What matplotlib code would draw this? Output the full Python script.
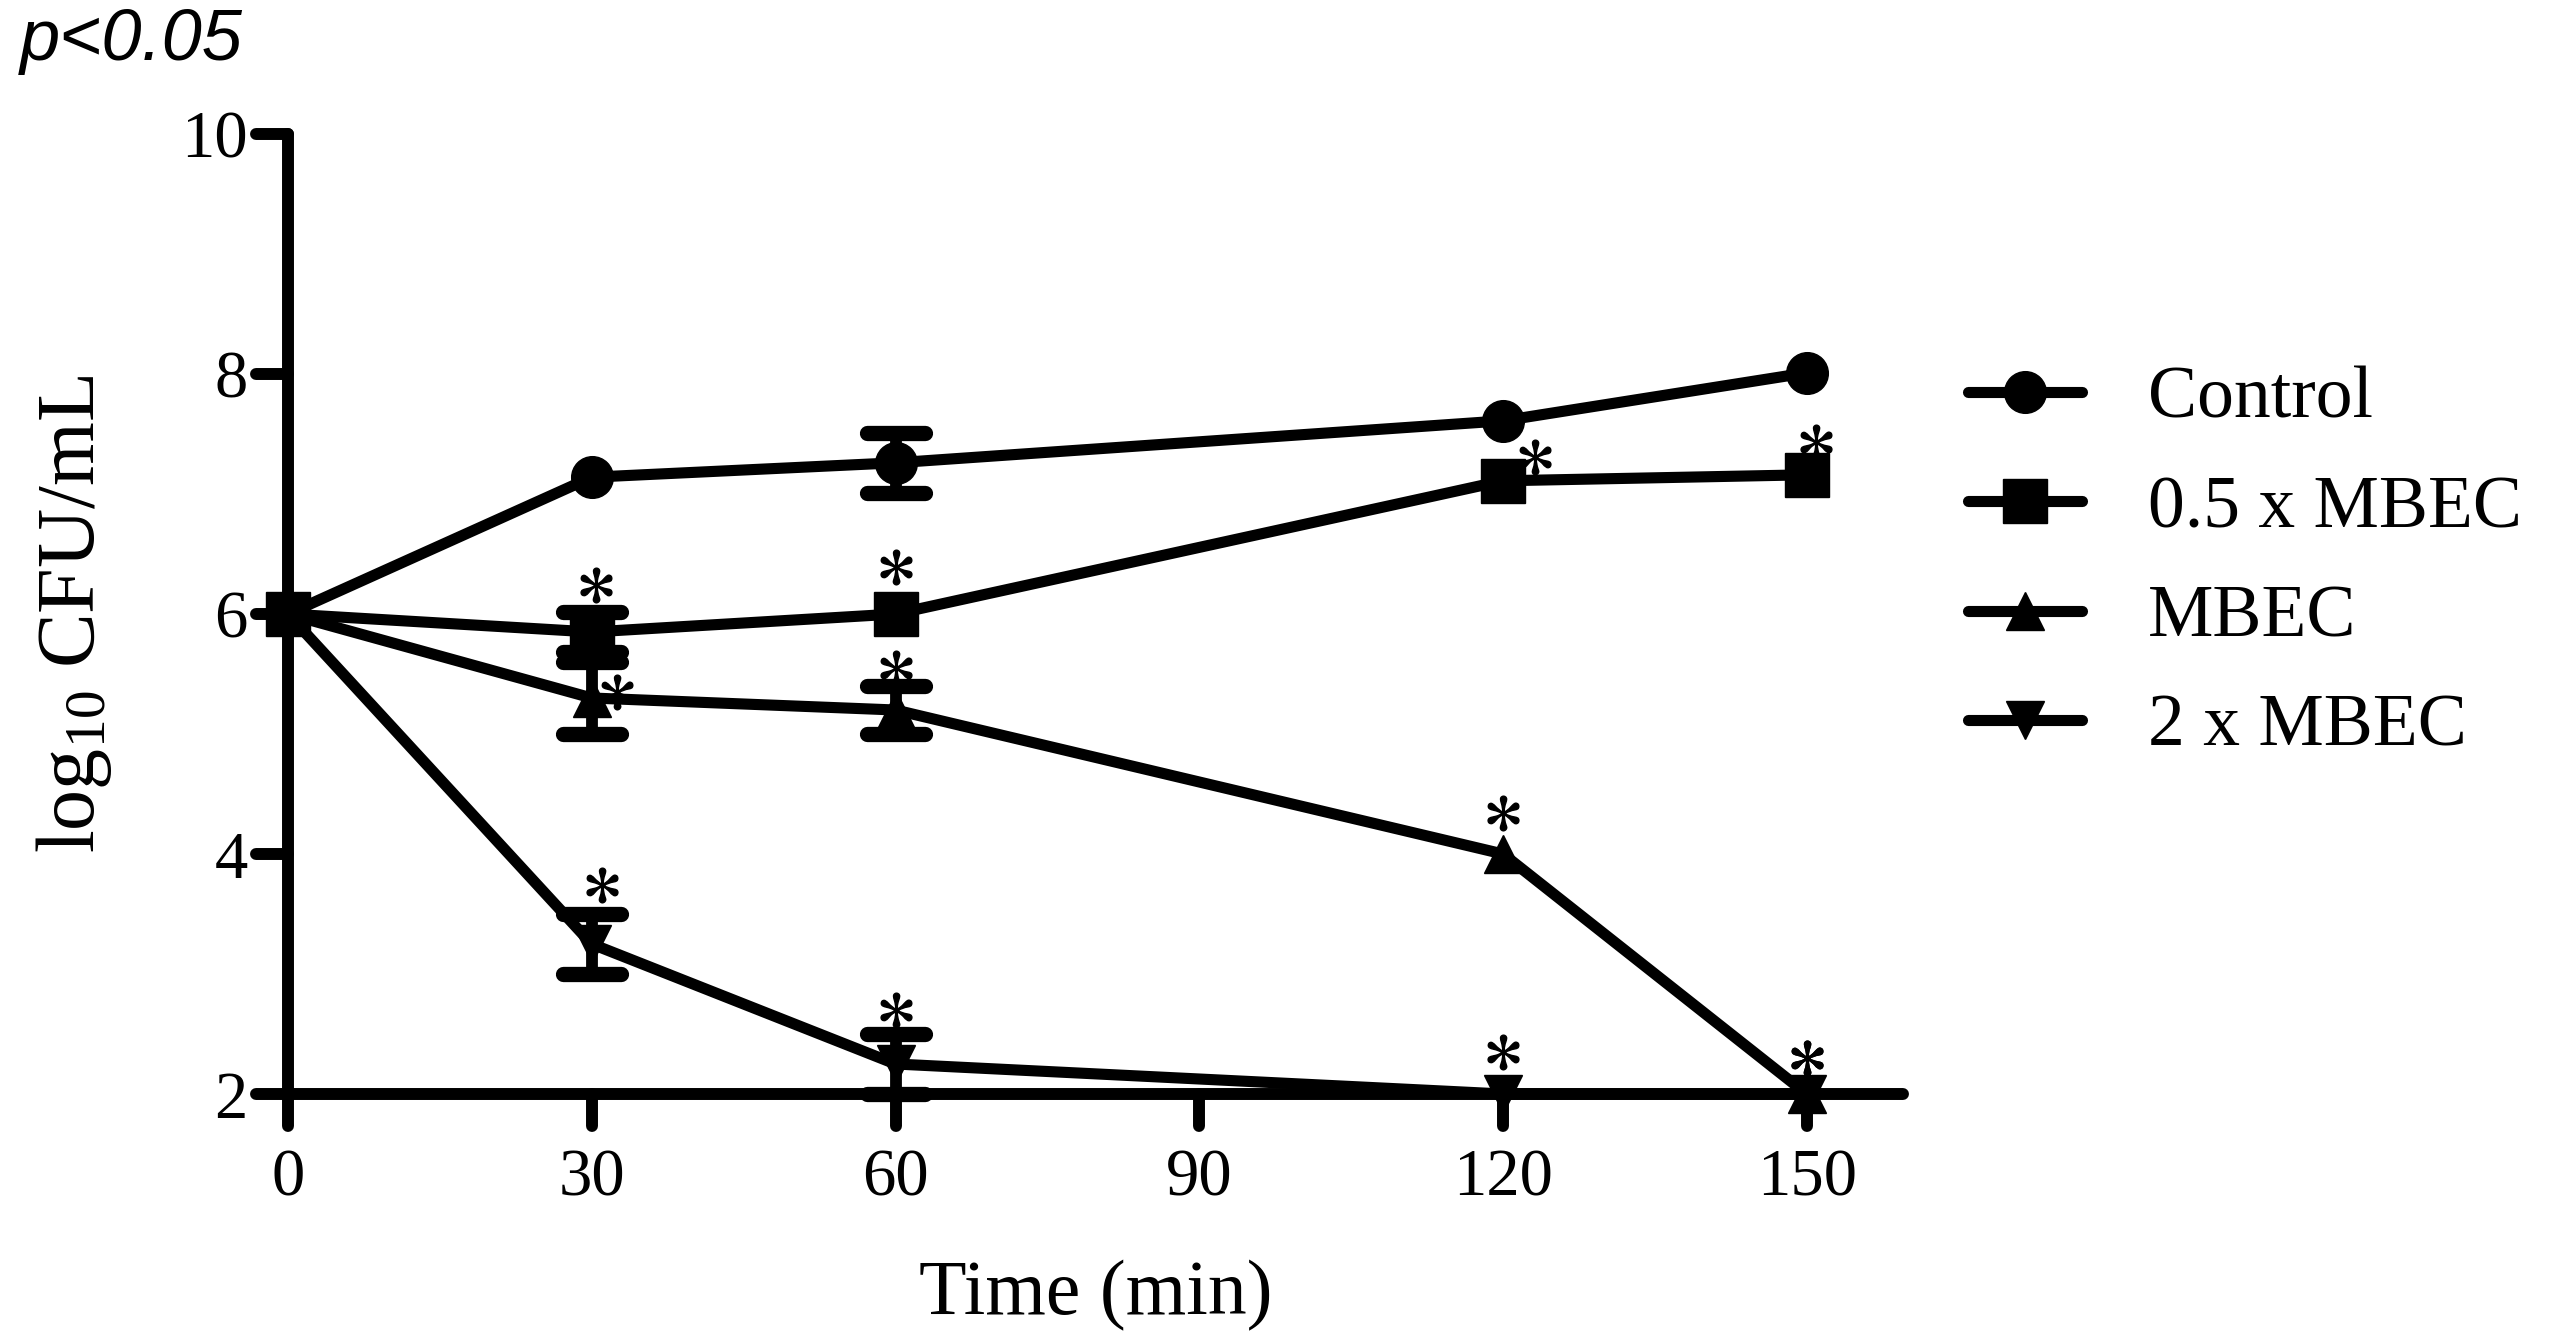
import numpy as np
import matplotlib
matplotlib.use("Agg")
import matplotlib.pyplot as plt
from matplotlib.markers import MarkerStyle
from matplotlib.transforms import offset_copy

plt.rcParams['font.family'] = ['Liberation Serif', 'DejaVu Serif']
plt.rcParams['mathtext.fontset'] = 'stix'

# data (log10 CFU/mL, mean +/- SD)
time_min = [0, 30, 60, 120, 150]
x_ticks = [0, 30, 60, 90, 120, 150]
y_ticks = [2, 4, 6, 8, 10]

labels = ['Control', '0.5 x MBEC', 'MBEC', '2 x MBEC']
control = [6.0, 7.14, 7.26, 7.61, 8.01]
control_err = [0, 0, 0.25, 0, 0]
half_mbec = [6.0, 5.85, 6.0, 7.11, 7.16]
half_mbec_err = [0, 0.17, 0, 0, 0]
mbec = [6.0, 5.3, 5.2, 4.0, 2.0]
mbec_err = [0, 0.3, 0.2, 0, 0]
two_mbec = [6.0, 3.25, 2.25, 2.0, 2.0]
two_mbec_err = [0, 0.25, 0.25, 0, 0]

# significance (p<0.05) flags per point
control_sig = [False, False, False, False, False]
half_mbec_sig = [False, True, True, True, True]
mbec_sig = [False, True, True, True, True]
two_mbec_sig = [False, True, True, True, True]

series = [
    (control, control_err, control_sig, 'o', 30),
    (half_mbec, half_mbec_err, half_mbec_sig, 's', 32),
    (mbec, mbec_err, mbec_sig, '^', 28),
    (two_mbec, two_mbec_err, two_mbec_sig, 'v', 28),
]

# where each asterisk sits relative to its point (pixels)
star_offsets = [
    [None] * 5,
    [None, (4, 47), (0, 47), (32, 24), (9, 33)],
    [None, (25, 6), (0, 42), (0, 41), (0, 36)],
    [None, (10, 59), (0, 54), (0, 42), (0, 36)],
]

fig = plt.figure(figsize=(25.61, 13.37), dpi=100)
ax = fig.add_axes([288 / 2561, 1 - 1094 / 1337, 1615 / 2561, 960 / 1337])

handles = []
for (vals, errs, sig, mk, ms), offs in zip(series, star_offsets):
    line, = ax.plot(time_min, vals, color='k', lw=8, marker=mk, ms=ms,
                    mec='k', mfc='k', clip_on=False, zorder=3,
                    solid_capstyle='round')
    handles.append(line)

    idx = [i for i, e in enumerate(errs) if e > 0]
    if idx:
        eb = ax.errorbar([time_min[i] for i in idx], [vals[i] for i in idx],
                         yerr=[errs[i] for i in idx], fmt='none', ecolor='k',
                         elinewidth=8.5, capsize=21, capthick=11,
                         clip_on=False, zorder=3)
        for cap in eb[1]:
            cap.set_marker(MarkerStyle('_', capstyle='round'))

    for i, s in enumerate(sig):
        if not s:
            continue
        dx, dy = offs[i]
        tr = offset_copy(ax.transData, fig=fig, x=dx, y=dy, units='dots')
        ax.plot(time_min[i], vals[i], marker='$*$', ms=25, color='k',
                transform=tr, clip_on=False, zorder=4)

ax.set_xlim(0, 159.5)
ax.set_ylim(2, 10)
ax.set_xticks(x_ticks)
ax.set_yticks(y_ticks)

for side in ['top', 'right']:
    ax.spines[side].set_visible(False)
for side in ['left', 'bottom']:
    ax.spines[side].set_linewidth(8.6)
    ax.spines[side].set_capstyle('round')
    ax.spines[side].set_zorder(2)

ax.tick_params(axis='both', direction='out', length=23, width=8.6,
               labelsize=48, colors='k')
ax.tick_params(axis='x', pad=16)
ax.tick_params(axis='y', pad=6)
for tl in ax.xaxis.get_ticklines() + ax.yaxis.get_ticklines():
    tl.set_marker(MarkerStyle(tl.get_marker(), capstyle='round'))

ax.set_xlabel('Time (min)', fontsize=56)
ax.set_ylabel(r'$\mathregular{log_{10}}$ CFU/mL', fontsize=59)
ax.xaxis.set_label_coords(0.5, -0.173)
ax.yaxis.set_label_coords(-0.108, 0.5)

fig.text(20 / 2561, 1 - 60 / 1337, 'p<0.05', family='Liberation Sans',
         style='italic', fontsize=52, va='baseline', ha='left')

fig.legend(handles, labels, loc='upper left',
           bbox_to_anchor=(1968 / 2561, 1 - 366 / 1337),
           frameon=False, fontsize=53, handlelength=1.55, handletextpad=0.9,
           labelspacing=0.57, borderpad=0, borderaxespad=0, numpoints=1)

fig.savefig('out.png', dpi=100)
